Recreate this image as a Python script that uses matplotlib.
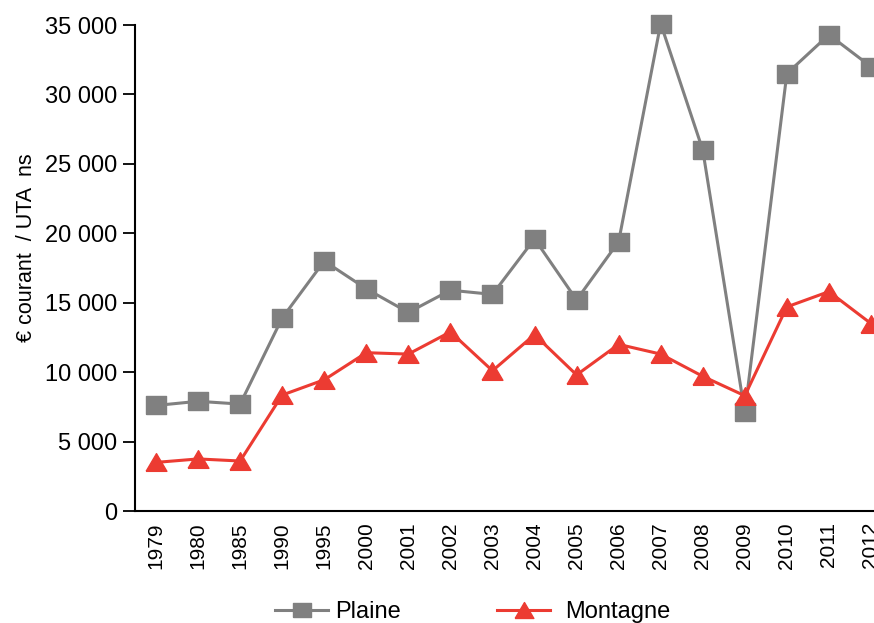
import matplotlib
matplotlib.use("Agg")
import matplotlib.pyplot as plt
from matplotlib.ticker import FuncFormatter

years = ["1979", "1980", "1985", "1990", "1995", "2000", "2001", "2002", "2003",
         "2004", "2005", "2006", "2007", "2008", "2009", "2010", "2011", "2012"]
plaine = [7600, 7900, 7700, 13900, 18000, 16000, 14300, 15900, 15600,
          19600, 15200, 19400, 35100, 26000, 7100, 31500, 34300, 32000]
montagne = [3500, 3750, 3600, 8350, 9450, 11400, 11300, 12900, 10100,
            12700, 9800, 12000, 11300, 9700, 8300, 14700, 15800, 13500]

plt.rcParams['font.family'] = ['Liberation Sans', 'DejaVu Sans']

W, H = 874, 623
fig = plt.figure(figsize=(W / 100, H / 100), dpi=100)
left, right, top, bottom = 135, 892, 25, 511
ax = fig.add_axes([left / W, 1 - bottom / H, (right - left) / W, (bottom - top) / H])

sq = [(-1, -0.82), (1, -0.82), (1, 0.82), (-1, 0.82), (-1, -0.82)]
tri = [(-1, -0.85), (1, -0.85), (0, 0.85), (-1, -0.85)]

x = list(range(len(years)))
lp, = ax.plot(x, plaine, color="#808080", lw=2.2, marker=sq, markersize=15,
              label="Plaine", clip_on=False, zorder=3)
lm, = ax.plot(x, montagne, color="#ec3b32", lw=2.2, marker=tri, markersize=15,
              label="Montagne", clip_on=False, zorder=4)

ax.set_xlim(-0.5, len(years) - 0.5)
ax.set_ylim(0, 35000)
ax.set_yticks(range(0, 35001, 5000))
ax.yaxis.set_major_formatter(FuncFormatter(lambda v, p: f"{int(v):,}".replace(",", " ")))
ax.set_xticks(x)
ax.set_xticklabels(years, rotation=90, fontsize=15)
ax.tick_params(axis="x", length=0, pad=8)
ax.tick_params(axis="y", length=9, width=1.3, labelsize=17, pad=4)
for s in ["top", "right"]:
    ax.spines[s].set_visible(False)
for s in ["left", "bottom"]:
    ax.spines[s].set_linewidth(1.5)
ax.set_ylabel("€ courant  / UTA  ns", fontsize=15.5)
ax.yaxis.set_label_coords((37 - left) / (right - left), (bottom - 248) / (bottom - top))

leg1 = fig.legend(handles=[lp], loc="center left", bbox_to_anchor=(275 / W, 1 - 612 / H),
                  frameon=False, fontsize=17, handlelength=2.25, handletextpad=0.3,
                  markerscale=0.85, borderpad=0, borderaxespad=0)
leg2 = fig.legend(handles=[lm], loc="center left", bbox_to_anchor=(497 / W, 1 - 612 / H),
                  frameon=False, fontsize=17, handlelength=2.25, handletextpad=0.64,
                  markerscale=0.9, borderpad=0, borderaxespad=0)

fig.savefig("out.png", dpi=100)
